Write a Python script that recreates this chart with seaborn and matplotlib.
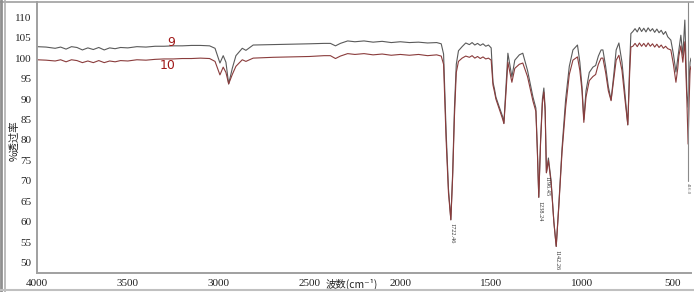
import matplotlib
matplotlib.use("Agg")
import matplotlib.pyplot as plt
import pandas as pd
import seaborn as sns
from matplotlib.lines import Line2D

# wavenumber (cm-1) and % transmittance of both spectra
wavenumber = [
    4000, 3950, 3900, 3870, 3840, 3810, 3780, 3750, 3720, 3690, 3660, 3630,
    3600, 3570, 3540, 3500, 3450, 3400, 3350, 3300, 3250, 3200, 3150, 3100,
    3050, 3020, 2993, 2975, 2960, 2945, 2925, 2905, 2870, 2850, 2810, 2700,
    2600, 2500, 2420, 2385, 2357, 2330, 2290, 2250, 2200, 2150, 2100, 2050,
    2000, 1950, 1900, 1850, 1800, 1775, 1762, 1748, 1735, 1722, 1712, 1702,
    1692, 1680, 1660, 1640, 1620, 1605, 1590, 1575, 1560, 1545, 1530, 1515,
    1500, 1490, 1482, 1474, 1455, 1436, 1430, 1420, 1408, 1386, 1370, 1345,
    1326, 1300, 1270, 1254, 1246, 1238, 1228, 1218, 1210, 1203, 1196, 1190,
    1185, 1170, 1155, 1142, 1128, 1110, 1090, 1070, 1050, 1025, 1012, 1000,
    990, 978, 960, 940, 925, 910, 895, 885, 870, 855, 840, 825, 812, 797,
    780, 765, 748, 738, 731, 720, 708, 696, 684, 672, 660, 648, 636, 624,
    612, 600, 588, 576, 564, 552, 540, 528, 511, 497, 483, 473, 467, 456,
    445, 434, 423, 416, 410, 405, 400,
]
trans_9 = [
    102.8, 102.7, 102.4, 102.7, 102.2, 102.8, 102.6, 102.0, 102.5, 102.1, 102.6, 102.0,
    102.5, 102.3, 102.6, 102.5, 102.8, 102.7, 102.9, 102.9, 103.0, 103.0, 103.1, 103.1,
    103.0, 102.4, 98.8, 100.6, 99.0, 93.7, 97.5, 100.6, 102.4, 101.9, 103.2, 103.3,
    103.4, 103.5, 103.6, 103.6, 103.0, 103.6, 104.2, 104.0, 104.2, 103.9, 104.1, 103.8,
    104.0, 103.8, 103.9, 103.7, 103.8, 103.5, 101.0, 82.0, 68.0, 60.5, 72.0, 88.0,
    98.5, 101.8, 102.8, 103.7, 103.3, 103.8, 103.2, 103.6, 103.1, 103.5, 102.9, 103.2,
    102.5, 94.1, 92.5, 90.5, 88.0, 85.6, 84.1, 92.0, 101.2, 95.4, 99.5, 100.8,
    101.2, 97.0, 90.5, 87.8, 78.0, 66.0, 80.0, 90.0, 92.7, 88.0, 72.0, 74.0,
    75.6, 70.0, 60.0, 54.0, 64.0, 78.0, 90.0, 98.0, 102.0, 103.2, 99.0, 93.0,
    85.0, 92.0, 96.5, 97.8, 98.2, 100.5, 102.0, 102.0, 98.0, 93.0, 89.8, 96.0,
    102.0, 103.7, 99.0, 92.0, 83.7, 98.0, 106.0, 106.5, 107.2, 106.4, 107.5, 106.5,
    107.3, 106.4, 107.4, 106.6, 107.2, 106.3, 107.1, 106.2, 106.8, 105.8, 106.5, 105.2,
    104.4, 101.0, 96.6, 100.0, 102.0, 105.6, 100.7, 109.3, 92.0, 88.0, 95.0, 99.0,
    100.0,
]
trans_10 = [
    99.6, 99.5, 99.3, 99.6, 99.1, 99.6, 99.4, 98.9, 99.3, 98.9, 99.4, 98.9,
    99.3, 99.1, 99.4, 99.3, 99.6, 99.5, 99.7, 99.8, 99.8, 99.9, 99.9, 100.0,
    99.9, 99.2, 95.9, 97.8, 96.5, 93.7, 96.0, 98.0, 99.6, 99.2, 100.0, 100.2,
    100.3, 100.4, 100.6, 100.6, 99.9, 100.5, 101.1, 100.9, 101.1, 100.8, 101.0, 100.7,
    100.9, 100.7, 100.9, 100.6, 100.8, 100.5, 98.5, 80.0, 67.0, 60.5, 71.0, 86.0,
    96.5, 99.2, 100.0, 100.5, 100.2, 100.6, 100.0, 100.4, 99.9, 100.3, 99.8, 100.0,
    99.5, 93.4, 91.8, 90.0, 87.5, 85.0, 84.0, 90.5, 99.0, 94.1, 97.5, 98.5,
    98.8, 95.5, 89.5, 87.0, 77.5, 66.0, 79.5, 89.0, 91.7, 87.0, 72.0, 73.5,
    75.0, 69.5, 60.0, 54.0, 63.5, 77.0, 88.0, 96.0, 99.5, 100.3, 97.0, 92.0,
    84.3, 90.5, 94.5, 95.5, 96.0, 98.5, 100.0, 100.0, 96.5, 92.0, 89.6, 95.0,
    99.5, 100.7, 97.0, 90.5, 83.7, 96.0, 102.7, 102.9, 103.6, 102.8, 103.7, 102.9,
    103.6, 102.8, 103.7, 102.9, 103.5, 102.7, 103.4, 102.6, 103.2, 102.4, 102.9, 102.3,
    102.0, 98.5, 94.1, 97.5, 100.5, 103.0, 99.0, 104.0, 90.0, 79.0, 90.0, 97.0,
    98.0,
]
series_names = ["9", "10"]
series_colors = ["#5a5a5a", "#8a3c3c"]

peak_pos = [1722.46, 1238.24, 1196.45, 1142.26]
peak_min = [60.5, 66.0, 72.0, 54.0]
peak_text = ["1722.46", "1238.24", "1196.45", "1142.26"]

df = pd.concat([
    pd.DataFrame({"wavenumber": wavenumber, "trans": trans_9, "sample": "9"}),
    pd.DataFrame({"wavenumber": wavenumber, "trans": trans_10, "sample": "10"}),
])

sns.set_style("white")
plt.rcParams["font.family"] = ["Liberation Serif", "Noto Sans CJK SC"]
cjk = ["Noto Sans CJK SC", "DejaVu Sans"]

fig = plt.figure(figsize=(6.94, 2.92), dpi=100)
ax = fig.add_axes([0.0533, 0.065, 0.9424, 0.928])

sns.lineplot(data=df, x="wavenumber", y="trans", hue="sample",
             hue_order=series_names, palette=series_colors,
             linewidth=0.8, sort=False, estimator=None, legend=False, ax=ax)

ax.set_xlim(4000, 400)
ax.set_ylim(47.5, 113.7)
ax.set_xticks([4000, 3500, 3000, 2500, 2000, 1500, 1000, 500])
ax.set_yticks(range(50, 111, 5))

for side in ["top", "right"]:
    ax.spines[side].set_visible(False)
for side in ["left", "bottom"]:
    ax.spines[side].set_color("#a0a0a0")
    ax.spines[side].set_linewidth(1.4)

ax.tick_params(axis="both", labelsize=8, colors="#a0a0a0", labelcolor="#222222",
               length=2.5, width=0.8, direction="out", pad=1.5)
ax.tick_params(axis="x", length=0, pad=4.5)

ax.set_xlabel("波数(cm⁻¹)", fontsize=7.5, color="#222222", family=cjk,
              va="center")
ax.xaxis.set_label_coords(0.482, -0.042)
ax.set_ylabel("%透过率", fontsize=7.5, color="#222222", family=cjk,
              va="center")
ax.yaxis.set_label_coords(-0.034, 0.49)

# series labels
ax.text(3262, 103.8, "9", color="#a01818", fontsize=9, family="DejaVu Sans",
        ha="center", va="center")
ax.text(3282, 98.2, "10", color="#a01818", fontsize=9, family="DejaVu Sans",
        ha="center", va="center")

# peak annotations
for pos, ymin, txt in zip(peak_pos, peak_min, peak_text):
    ax.text(pos - 5, ymin - 0.8, txt, rotation=270, fontsize=4.5,
            color="#333333", ha="center", va="top")

# marker line at the low-wavenumber end
ax.plot([416, 416], [113.7, 70], color="#8a8a8a", linewidth=0.8)
ax.text(418, 69.5, "416.0", rotation=270, fontsize=3.5, color="#555555",
        ha="center", va="top")

# window frame around the screenshot
fig.add_artist(Line2D([0, 1], [0.993, 0.993], color="#a0a0a0", linewidth=1.2))
fig.add_artist(Line2D([0.002, 0.002], [0, 1], color="#909090", linewidth=2.0))
fig.add_artist(Line2D([0.007, 0.007], [0, 1], color="#b0b0b0", linewidth=1.2))
fig.add_artist(Line2D([0, 1], [0.006, 0.006], color="#c0c0c0", linewidth=1.5))

fig.savefig("out.png", dpi=100)
